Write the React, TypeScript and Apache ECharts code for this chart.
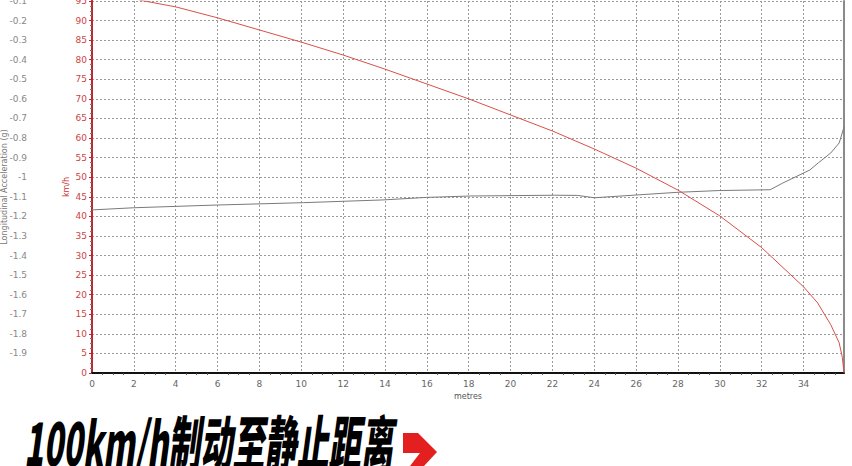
import { useEffect, useRef } from "react";
import * as echarts from "echarts";

// speed trace (km/h) against distance (m)
const speedDist = [0, 2.3, 4, 6, 8, 10, 12, 14, 16, 18, 20, 22, 24, 26, 28, 30, 32, 34, 34.67, 35.3, 35.7, 35.85, 35.93];
const speedKmh = [100, 95.2, 93.5, 90.7, 87.6, 84.5, 81.2, 77.6, 73.8, 70, 65.9, 61.8, 57.2, 52.3, 46.7, 40.1, 32.0, 22, 17.9, 12.3, 7.7, 4, 0];

// longitudinal acceleration (g) against distance (m)
const accDist = [0, 2, 6, 10.1, 13.9, 16, 18.1, 22.1, 23.2, 24, 26, 28, 30, 32.4, 33, 34.3, 34.7, 35.3, 35.7, 35.93];
const accG = [-1.167, -1.156, -1.142, -1.13, -1.116, -1.103, -1.096, -1.092, -1.093, -1.105, -1.091, -1.077, -1.068, -1.064, -1.03, -0.963, -0.927, -0.876, -0.825, -0.744];

const stopDistance = 35.93;
const titleText = "100km/h制动至静止距离";

const App = () => {
  const chartRef = useRef<HTMLDivElement>(null);

  useEffect(() => {
    document.body.style.margin = "0";
    const chart = echarts.init(chartRef.current, null, { renderer: "svg" });
    const fmt = (v: number) => String(Math.round(v * 10) / 10);
    const dashed = { show: true, lineStyle: { color: "#9a9a9a", type: [2, 2] as any, width: 1 } };

    chart.setOption({
      animation: false,
      backgroundColor: "#fff",
      textStyle: { fontFamily: "DejaVu Sans" },
      grid: { left: 92, right: 8, top: 1, bottom: 93, containLabel: false, outerBoundsMode: "none" },
      xAxis: {
        type: "value",
        min: 0,
        max: stopDistance,
        interval: 2,
        name: "metres",
        nameLocation: "middle",
        nameGap: 19,
        nameMoveOverlap: false,
        nameTextStyle: { color: "#555", fontSize: 8 },
        axisLine: { lineStyle: { color: "#111", width: 2 } },
        axisTick: { show: false },
        minorTick: { show: true, splitNumber: 4, length: 2, lineStyle: { color: "#555" } },
        axisLabel: { color: "#666", fontSize: 9, margin: 6, showMaxLabel: false },
        splitLine: dashed,
      },
      yAxis: [
        {
          type: "value",
          position: "left",
          offset: 60,
          min: -2,
          max: -0.1,
          interval: 0.1,
          name: "Longitudinal Acceleration (g)",
          nameLocation: "middle",
          nameGap: 24,
          nameRotate: 90,
          nameMoveOverlap: false,
          nameTextStyle: { color: "#777", fontSize: 8 },
          axisLine: { show: true, lineStyle: { color: "#555", width: 2 } },
          axisTick: { show: true, length: 3, lineStyle: { color: "#555" } },
          minorTick: { show: true, splitNumber: 4, length: 2, lineStyle: { color: "#777" } },
          axisLabel: { color: "#888", fontSize: 9, margin: 5, showMinLabel: false, formatter: fmt },
          splitLine: { show: false },
        },
        {
          type: "value",
          position: "left",
          min: 0,
          max: 95,
          interval: 5,
          name: "km/h",
          nameLocation: "middle",
          nameGap: 22,
          nameRotate: 90,
          nameMoveOverlap: false,
          nameTextStyle: { color: "#c33", fontSize: 8 },
          axisLine: { show: true, lineStyle: { color: "#c0262c", width: 2 } },
          axisTick: { show: true, length: 3, lineStyle: { color: "#c0262c" } },
          axisLabel: { color: "#c44", fontSize: 9, margin: 5 },
          splitLine: dashed,
        },
        {
          type: "value",
          position: "right",
          min: 0,
          max: 95,
          axisLine: { show: true, lineStyle: { color: "#8a8a8a", width: 2 } },
          axisTick: { show: false },
          axisLabel: { show: false },
          splitLine: { show: false },
        },
      ],
      series: [
        {
          name: "acceleration",
          type: "line",
          yAxisIndex: 0,
          data: accDist.map((d, i) => [d, accG[i]]),
          showSymbol: false,
          lineStyle: { color: "#7a7a7a", width: 1 },
          itemStyle: { color: "#7a7a7a" },
          clip: true,
        },
        {
          name: "speed",
          type: "line",
          yAxisIndex: 1,
          data: speedDist.map((d, i) => [d, speedKmh[i]]),
          showSymbol: false,
          lineStyle: { color: "#d9504a", width: 1 },
          itemStyle: { color: "#d9504a" },
          clip: true,
        },
      ],
      graphic: [
        {
          type: "text",
          x: 24,
          y: 410,
          scaleX: 0.535,
          style: {
            text: titleText,
            fill: "#000",
            fontFamily: "Noto Sans CJK SC",
            fontSize: 60,
            fontWeight: 900,
            fontStyle: "italic",
            textVerticalAlign: "top",
          },
        },
        {
          type: "polygon",
          shape: {
            points: [
              [403, 433],
              [418, 433],
              [437, 452],
              [424, 466],
              [410, 466],
              [420, 453],
              [403, 453],
            ],
          },
          style: { fill: "#e3201f" },
        },
      ],
    });

    return () => {
      chart.dispose();
    };
  }, []);

  return <div ref={chartRef} style={{ width: "852px", height: "466px" }}></div>;
};

export default App;
